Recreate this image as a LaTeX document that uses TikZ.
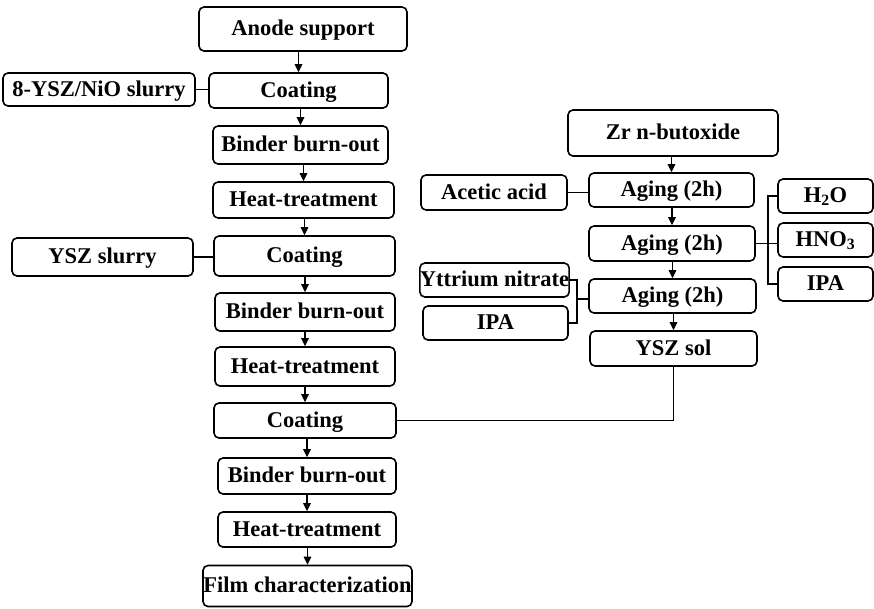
\documentclass[tikz,border=0pt]{standalone}
\usepackage{fontspec}
\setmainfont{Liberation Serif}
\usetikzlibrary{arrows.meta}
\begin{document}
\begin{tikzpicture}[x=1pt,y=-1pt,
  box/.style={draw, rounded corners=5pt, line width=1.6pt, inner sep=0pt,
    text height=18pt, text depth=5pt,
    font=\fontsize{22.5}{25}\selectfont\bfseries},
  flow/.style={line width=1.2pt, -{Triangle[length=8pt,width=7.5pt]}},
  link/.style={line width=1.1pt}]
\useasboundingbox (0,0) rectangle (874,608);
% left column
\node[box, minimum width=208pt, minimum height=44pt] (anode) at (303,29) {Anode support};
\node[box, minimum width=179pt, minimum height=35pt] (coat1) at (298.5,90.5) {Coating};
\node[box, minimum width=192pt, minimum height=33pt] (nio) at (99,89.5) {8-YSZ/NiO slurry};
\node[box, minimum width=175pt, minimum height=38pt] (bind1) at (300.5,145) {Binder burn-out};
\node[box, minimum width=181pt, minimum height=36pt] (heat1) at (303.5,200) {Heat-treatment};
\node[box, minimum width=181pt, minimum height=38pt] (ysz) at (102.5,257) {YSZ slurry};
\node[box, minimum width=181pt, minimum height=40pt] (coat2) at (304.5,256) {Coating};
\node[box, minimum width=180pt, minimum height=38pt] (bind2) at (305,312) {Binder burn-out};
\node[box, minimum width=180pt, minimum height=39pt] (heat2) at (305,366.5) {Heat-treatment};
\node[box, minimum width=182pt, minimum height=35pt] (coat3) at (305,420.5) {Coating};
\node[box, minimum width=178pt, minimum height=36pt] (bind3) at (307,476) {Binder burn-out};
\node[box, minimum width=178pt, minimum height=35pt] (heat3) at (307,529.5) {Heat-treatment};
\node[box, minimum width=209pt, minimum height=41pt] (film) at (307.5,586) {Film characterization};
% right part
\node[box, minimum width=210pt, minimum height=46pt] (zr) at (673,133) {Zr n-butoxide};
\node[box, minimum width=146pt, minimum height=35pt] (acetic) at (494,192.5) {Acetic acid};
\node[box, minimum width=165pt, minimum height=34pt] (ag1) at (671.5,190) {Aging (2h)};
\node[box, minimum width=166pt, minimum height=35pt] (ag2) at (672,243.5) {Aging (2h)};
\node[box, minimum width=167pt, minimum height=34pt] (ag3) at (672.5,296) {Aging (2h)};
\node[box, minimum width=167pt, minimum height=35pt] (sol) at (673.5,348.5) {YSZ sol};
\node[box, minimum width=95pt, minimum height=34pt] (h2o) at (825.5,196) {H\textsubscript{2}O};
\node[box, minimum width=95pt, minimum height=34pt] (hno) at (825.5,240) {HNO\textsubscript{3}};
\node[box, minimum width=95pt, minimum height=34pt] (ipar) at (825.5,284) {IPA};
\node[box, minimum width=146pt, minimum height=34pt] (ytt) at (494.5,280) {Yttrium nitrate};
\node[box, minimum width=145pt, minimum height=34pt] (ipal) at (495.5,323) {IPA};
% flow arrows left
\draw[flow] (anode.south -| coat1.north) -- (coat1.north);
\draw[flow] (coat1.south -| bind1.north) -- (bind1.north);
\draw[flow] (bind1.south -| heat1.north) -- (heat1.north);
\draw[flow] (heat1.south -| coat2.north) -- (coat2.north);
\draw[flow] (coat2.south -| bind2.north) -- (bind2.north);
\draw[flow] (bind2.south -| heat2.north) -- (heat2.north);
\draw[flow] (heat2.south -| coat3.north) -- (coat3.north);
\draw[flow] (coat3.south -| bind3.north) -- (bind3.north);
\draw[flow] (bind3.south -| heat3.north) -- (heat3.north);
\draw[flow] (heat3.south -| film.north) -- (film.north);
% side feeds left
\draw[link] (nio.east) -- (nio.east -| coat1.west);
\draw[link] (ysz.east) -- (ysz.east -| coat2.west);
% flow arrows right
\draw[flow] (zr.south -| ag1.north) -- (ag1.north);
\draw[flow] (ag1.south -| ag2.north) -- (ag2.north);
\draw[flow] (ag2.south -| ag3.north) -- (ag3.north);
\draw[flow] (ag3.south -| sol.north) -- (sol.north);
\draw[link] (acetic.east) -- (acetic.east -| ag1.west);
% bracket right
\coordinate (rb) at (768,239);
\draw[link] (h2o.west) -- (h2o.west -| rb) -- (ipar.west -| rb) -- (ipar.west);
\draw[link] (ag2.east) -- (ag2.east -| hno.west);
% bracket left
\coordinate (lb) at (577,299);
\draw[link] (ytt.east) -- (ytt.east -| lb) -- (ipal.east -| lb) -- (ipal.east);
\draw[link] (lb) -- (lb -| ag3.west);
% sol to coating 3
\draw[link] (sol.south) -- (sol.south |- coat3.east) -- (coat3.east);
\end{tikzpicture}
\end{document}
